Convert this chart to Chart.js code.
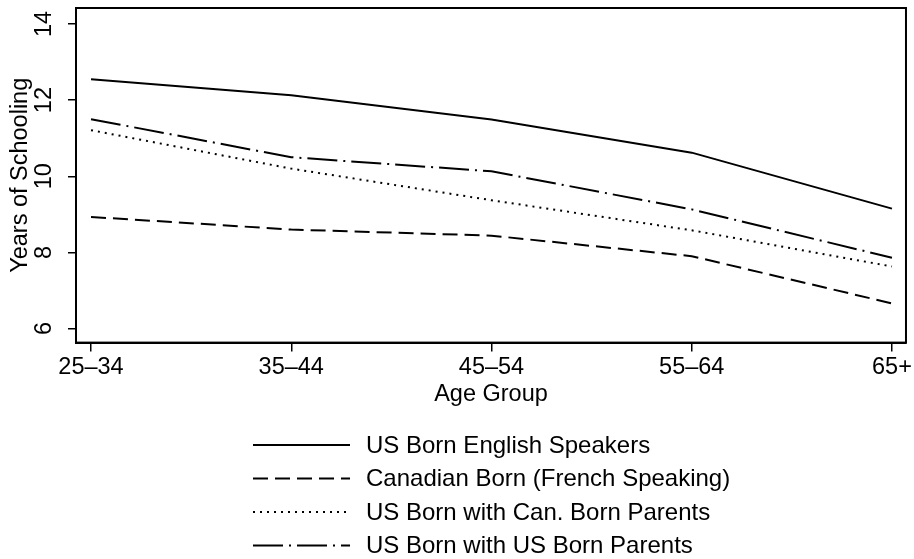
<!DOCTYPE html>
<html>
<head>
<meta charset="utf-8">
<script src="https://cdn.jsdelivr.net/npm/chart.js@4"></script>
<style>
  html, body { margin: 0; padding: 0; background: #fff; }
  #wrap { width: 914px; height: 559px; }
</style>
</head>
<body>
<div id="wrap"><canvas id="myChart"></canvas></div>
<script>
const ageGroups = ['25\u201334', '35\u201344', '45\u201354', '55\u201364', '65+']
const yTicks = [6, 8, 10, 12, 14]

const usEnglish = [12.55, 12.13, 11.49, 10.62, 9.15]
const canFrench = [8.93, 8.6, 8.44, 7.9, 6.66]
const usCanParents = [11.21, 10.2, 9.37, 8.58, 7.63]
const usUsParents = [11.5, 10.5, 10.13, 9.13, 7.86]

const font = 'Liberation Sans, Arial, Helvetica, sans-serif'
const fontSize = 23.5

const toPoints = (vals) => vals.map((v, i) => ({ x: i, y: v }))

const line = (label, vals, dash) => ({
    label: label,
    data: toPoints(vals),
    borderColor: '#000',
    borderWidth: 2,
    borderDash: dash,
    pointRadius: 0,
    fill: false,
    tension: 0
})

// frame around the plot area
const frame = {
    id: 'frame',
    afterDatasetsDraw(chart) {
        const a = chart.chartArea
        const ctx = chart.ctx
        ctx.save()
        ctx.strokeStyle = '#000'
        ctx.lineWidth = 2
        ctx.strokeRect(a.left, a.top, a.right - a.left, a.bottom - a.top)
        ctx.restore()
    }
}

// y tick labels turned to read upward, like the original
const yLabels = {
    id: 'yLabels',
    afterDraw(chart) {
        const ctx = chart.ctx
        const sc = chart.scales.y
        ctx.save()
        ctx.font = fontSize + 'px ' + font
        ctx.fillStyle = '#000'
        ctx.textAlign = 'center'
        ctx.textBaseline = 'middle'
        sc.ticks.forEach(t => {
            const py = sc.getPixelForValue(t.value)
            ctx.save()
            ctx.translate(sc.right - 31, py)
            ctx.rotate(-Math.PI / 2)
            ctx.fillText(String(t.value), 0, 0)
            ctx.restore()
        })
        ctx.restore()
    }
}

// one legend entry per row, under the x axis title
const stackLegend = {
    id: 'stackLegend',
    afterDraw(chart) {
        const ctx = chart.ctx
        ctx.save()
        ctx.font = '24px ' + font
        ctx.textBaseline = 'middle'
        chart.data.datasets.forEach((ds, i) => {
            const y = 445 + i * 33.5
            ctx.strokeStyle = '#000'
            ctx.lineWidth = 2
            ctx.setLineDash(ds.borderDash || [])
            ctx.beginPath()
            ctx.moveTo(253, y)
            ctx.lineTo(350, y)
            ctx.stroke()
            ctx.setLineDash([])
            ctx.fillStyle = '#000'
            ctx.fillText(ds.label, 366, y + 1)
        })
        ctx.restore()
    }
}

const config = {
    type: 'line',
    data: {
        datasets: [
            line('US Born English Speakers', usEnglish, []),
            line('Canadian Born (French Speaking)', canFrench, [15, 7]),
            line('US Born with Can. Born Parents', usCanParents, [2, 5]),
            line('US Born with US Born Parents', usUsParents, [30, 6, 2, 6])
        ]
    },
    options: {
        responsive: true,
        maintainAspectRatio: false,
        animation: false,
        layout: { padding: { top: 8, right: 6, bottom: 150, left: 0 } },
        plugins: {
            legend: { display: false },
            tooltip: { enabled: false }
        },
        scales: {
            x: {
                type: 'linear',
                min: -0.075,
                max: 4.07,
                afterBuildTicks: (axis) => { axis.ticks = ageGroups.map((g, i) => ({ value: i })) },
                ticks: {
                    color: '#000',
                    font: { family: font, size: fontSize },
                    padding: 2,
                    maxRotation: 0,
                    callback: (v) => ageGroups[v]
                },
                grid: { drawOnChartArea: false, drawTicks: true, tickLength: 9, color: '#000', lineWidth: 1.5 },
                border: { display: true, color: '#000', width: 2 },
                title: { display: true, text: 'Age Group', color: '#000', font: { family: font, size: fontSize }, padding: { top: -3, bottom: 0 } }
            },
            y: {
                min: 5.63,
                max: 14.42,
                afterBuildTicks: (axis) => { axis.ticks = yTicks.map(v => ({ value: v })) },
                afterFit: (axis) => { axis.width = 76 },
                ticks: { display: false },
                grid: { drawOnChartArea: false, drawTicks: true, tickLength: 8, color: '#000', lineWidth: 1.5 },
                border: { display: true, color: '#000', width: 2 },
                title: { display: true, text: 'Years of Schooling', color: '#000', font: { family: font, size: fontSize }, padding: { top: 6, bottom: 0 } }
            }
        }
    },
    plugins: [frame, yLabels, stackLegend]
}

new Chart(document.getElementById('myChart'), config)
</script>
</body>
</html>
